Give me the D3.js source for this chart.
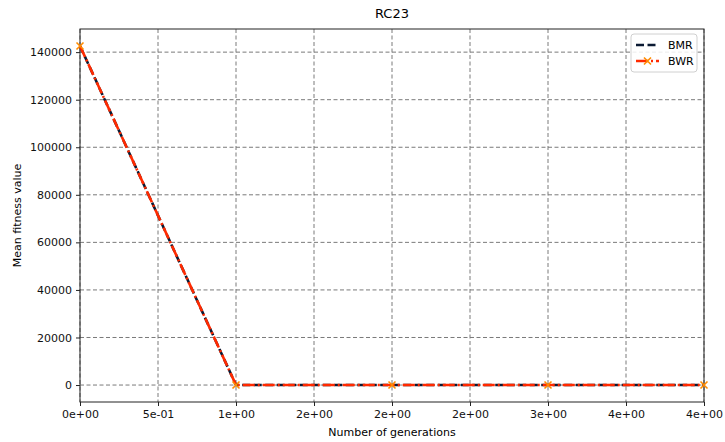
<!DOCTYPE html>
<html><head><meta charset="utf-8">
<script src="https://cdn.jsdelivr.net/npm/d3@7"></script>
<style>body{margin:0;background:#fff}svg{font-family:"DejaVu Sans",sans-serif}</style>
</head><body><svg id="c" width="725" height="442"></svg>
<script>
const generations = [0, 1, 2, 3, 4];
const bmr = [142600, 0, 0, 0, 0];
const bwr = [142600, 0, 0, 0, 0];
const xTicks = [0, 0.5, 1, 1.5, 2, 2.5, 3, 3.5, 4];
const xTickLabels = ["0e+00", "5e-01", "1e+00", "2e+00", "2e+00", "2e+00", "3e+00", "4e+00", "4e+00"];
const yTicks = [0, 20000, 40000, 60000, 80000, 100000, 120000, 140000];
const title = "RC23", xLabel = "Number of generations", yLabel = "Mean fitness value";

const svg = d3.select("#c");
const m = {l: 80, r: 704, t: 29, b: 402};
const x = d3.scaleLinear().domain([0, 4]).range([m.l, m.r]);
const y = d3.scaleLinear().domain([-7130, 149730]).range([m.b, m.t]);

// grid
const g = svg.append("g");
g.selectAll(".gx").data(xTicks).join("line").attr("x1", d => x(d)).attr("x2", d => x(d))
  .attr("y1", m.t).attr("y2", m.b).attr("stroke", "#7a7a7a").attr("stroke-width", 1).attr("stroke-dasharray", "4,2.5");
g.selectAll(".gy").data(yTicks).join("line").attr("y1", d => y(d)).attr("y2", d => y(d))
  .attr("x1", m.l).attr("x2", m.r).attr("stroke", "#7a7a7a").attr("stroke-width", 1).attr("stroke-dasharray", "4,2.5");

// axes
const xa = svg.append("g").attr("transform", `translate(0,${m.b})`)
  .call(d3.axisBottom(x).tickValues(xTicks).tickFormat((d, i) => xTickLabels[i]).tickSize(4).tickPadding(4));
const ya = svg.append("g").attr("transform", `translate(${m.l},0)`)
  .call(d3.axisLeft(y).tickValues(yTicks).tickFormat(d3.format("d")).tickSize(4).tickPadding(4));
[xa, ya].forEach(a => { a.select(".domain").remove(); a.selectAll("text").attr("font-size", 11).attr("fill", "#111").attr("font-family", "DejaVu Sans"); a.selectAll("line").attr("stroke", "#222"); });
svg.append("rect").attr("x", m.l).attr("y", m.t).attr("width", m.r - m.l).attr("height", m.b - m.t)
  .attr("fill", "none").attr("stroke", "#222").attr("stroke-width", 1);

const line = d3.line().x((d, i) => x(generations[i])).y(d => y(d));
svg.append("path").datum(bmr).attr("d", line).attr("fill", "none").attr("stroke", "#0b1a33")
  .attr("stroke-width", 2.6).attr("stroke-dasharray", "8,3.5");
svg.append("path").datum(bwr).attr("d", line).attr("fill", "none").attr("stroke", "#ff2a00")
  .attr("stroke-width", 2.6).attr("stroke-dasharray", "12,3,2,3");
const mk = (sel, cx, cy, s) => sel.append("path").attr("d", `M${cx-s},${cy-s}L${cx+s},${cy+s}M${cx-s},${cy+s}L${cx+s},${cy-s}`)
  .attr("stroke", "#ff8c00").attr("stroke-width", 1.6).attr("fill", "none");
bwr.forEach((v, i) => mk(svg, x(generations[i]), y(v), 3.5));

// legend
const lg = svg.append("g");
lg.append("rect").attr("x", 631).attr("y", 34).attr("width", 66).attr("height", 38).attr("rx", 3)
  .attr("fill", "#fff").attr("fill-opacity", 0.85).attr("stroke", "#d0d0d0");
lg.append("line").attr("x1", 636).attr("x2", 659).attr("y1", 45).attr("y2", 45).attr("stroke", "#0b1a33").attr("stroke-width", 2.6).attr("stroke-dasharray", "8,3.5");
lg.append("line").attr("x1", 636).attr("x2", 659).attr("y1", 61).attr("y2", 61).attr("stroke", "#ff2a00").attr("stroke-width", 2.6).attr("stroke-dasharray", "12,3,2,3");
mk(lg, 647.5, 61, 3.5);
lg.append("text").attr("x", 668).attr("y", 49).text("BMR").attr("font-size", 11);
lg.append("text").attr("x", 668).attr("y", 65).text("BWR").attr("font-size", 11);

svg.append("text").attr("x", (m.l + m.r) / 2).attr("y", 18).attr("text-anchor", "middle").attr("font-size", 13).text(title);
svg.append("text").attr("x", (m.l + m.r) / 2).attr("y", 436).attr("text-anchor", "middle").attr("font-size", 11).text(xLabel);
svg.append("text").attr("transform", `translate(21,${(m.t + m.b) / 2}) rotate(-90)`).attr("text-anchor", "middle").attr("font-size", 11).text(yLabel);
</script></body></html>
